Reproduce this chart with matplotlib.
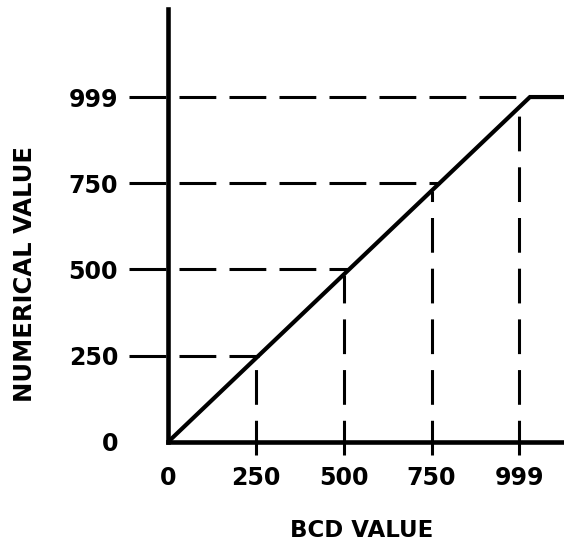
import numpy as np
import matplotlib
matplotlib.use("Agg")
import matplotlib.pyplot as plt

# transfer curve: numerical value vs BCD value (saturates at 999)
bcd_values = [0, 1030, 1127]
num_values = [0, 999, 999]

tick_values = [0, 250, 500, 750, 999]
tick_labels = ["0", "250", "500", "750", "999"]
guide_values = [250, 500, 750, 999]

plt.rcParams['lines.scale_dashes'] = False
plt.rcParams['font.family'] = ['DejaVu Sans']

fig = plt.figure(figsize=(5.64, 5.45), dpi=100)
ax = fig.add_axes([0.2979, 0.189, 0.7021, 0.7945])

ax.set_xlim(0, 1127)
ax.set_ylim(0, 1254)

ink = 'black'

# main curve
ax.plot(bcd_values, num_values, color=ink, linewidth=3.0, solid_capstyle='butt',
        solid_joinstyle='miter', clip_on=False, zorder=3)

# dashed guides: horizontal from left of axis to the curve, vertical from below axis up to it
for v in guide_values:
    x_end = np.interp(v, num_values[:2], bcd_values[:2])
    ax.plot([-111, x_end], [v, v], color=ink, linewidth=2.2,
            linestyle=(0, (26.5, 9.5)), clip_on=False, zorder=2)
    y_end = np.interp(v, bcd_values, num_values)
    ax.plot([v, v], [-38, y_end], color=ink, linewidth=2.2,
            linestyle=(0, (25, 11.5)), clip_on=False, zorder=2)

for side in ['top', 'right']:
    ax.spines[side].set_visible(False)
for side in ['left', 'bottom']:
    ax.spines[side].set_linewidth(3.3)
    ax.spines[side].set_color(ink)

ax.set_xticks(tick_values)
ax.set_xticklabels(tick_labels)
ax.set_yticks(tick_values)
ax.set_yticklabels(tick_labels)
ax.tick_params(axis='both', length=0, labelsize=17, colors=ink)
ax.tick_params(axis='x', pad=17)
ax.tick_params(axis='y', pad=36)
for lab in ax.get_xticklabels() + ax.get_yticklabels():
    lab.set_fontweight('bold')

ax.set_xlabel("BCD VALUE", fontsize=16.5, fontweight='bold', color=ink)
ax.xaxis.label.set_va('center')
ax.xaxis.set_label_coords(0.49, -0.205)
ax.set_ylabel("NUMERICAL VALUE", fontsize=17.5, fontweight='bold', color=ink)
ax.yaxis.label.set_va('center')
ax.yaxis.set_label_coords(-0.361, 0.388)

fig.savefig("out.png", dpi=100)
